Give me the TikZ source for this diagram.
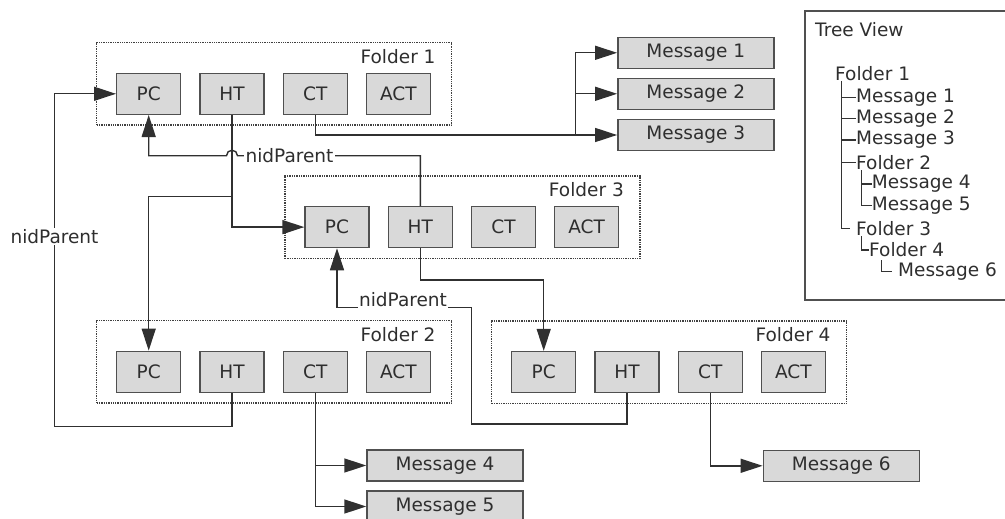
\documentclass[tikz,border=0pt]{standalone}
\usepackage{fontspec}
\setmainfont{DejaVu Sans}
\usetikzlibrary{arrows.meta}
\definecolor{boxfill}{HTML}{D9D9D9}
\definecolor{boxline}{HTML}{505050}
\definecolor{conncol}{HTML}{303030}
\newcommand{\mkfolder}[4]{%
\begin{scope}[shift={(#2,#3)}]
 \node[folderbox] (#1) at (177.5,41.15) {};
 \node[flabel,anchor=east] (#1lab) at (339,14) {#4};
 \node[cell] (#1pc) at (52,51.1) {PC};
 \node[cell] (#1ht) at (135.3,51.1) {HT};
 \node[cell] (#1ct) at (218.6,51.1) {CT};
 \node[cell] (#1act) at (301.6,51.1) {ACT};
\end{scope}}
\begin{document}
\begin{tikzpicture}[x=1pt,y=-1pt,
  every node/.style={font=\fontsize{18.5}{22}\selectfont, text=black!82},
  folderbox/.style={draw=black!75, densely dotted, line width=1.3pt, minimum width=355pt, minimum height=82.3pt, inner sep=0pt},
  flabel/.style={inner sep=0pt},
  cell/.style={draw=boxline, fill=boxfill, line width=1.4pt, minimum width=64pt, minimum height=41pt, inner sep=0pt},
  msg/.style={draw=boxline, fill=boxfill, line width=1.4pt, minimum width=156pt, minimum height=31pt, inner sep=0pt},
  conn/.style={draw=conncol, line width=1.4pt},
  arr/.style={conn, -{Triangle[length=22pt,width=14pt]}},
  lbl/.style={fill=white, inner sep=1.5pt},
  tree/.style={draw=black!80, line width=1.2pt},
  tlab/.style={anchor=west, inner sep=0pt}]
\useasboundingbox (0,0) rectangle (1005,519);

% folders
\mkfolder{fa}{96.7}{42.7}{Folder 1}
\mkfolder{fc}{285}{176}{Folder 3}
\mkfolder{fb}{96.7}{320.7}{Folder 2}
\mkfolder{fd}{491.7}{321}{Folder 4}

% messages
\node[msg] (m1) at (695.8,52.8) {Message 1};
\node[msg] (m2) at (695.8,93.8) {Message 2};
\node[msg] (m3) at (695.8,135) {Message 3};
\node[msg] (m4) at (445,465.5) {Message 4};
\node[msg] (m5) at (445,506.5) {Message 5};
\node[msg] (m6) at (841.3,465.8) {Message 6};

% helper coordinates
\coordinate (a1) at (54.3,426.7);
\coordinate (h) at (232,155.7);
\coordinate (b1) at (232,196.7);
\coordinate (b2) at (420.3,280);
\coordinate (b3) at (471.7,424);
\coordinate (b4) at (471.7,307.3);
\coordinate (b5) at (575.7,135);

% Folder 2 HT -> Folder 1 PC
\draw[arr] (fbht.south) |- (a1) |- (fapc.west);
\node[lbl] (np1) at (54.5,236.7) {nidParent};

% Folder 3 HT -> Folder 1 PC (with hop)
\draw[arr] (fcht.north) |- ([xshift=5.5pt]h) arc[start angle=0,end angle=180,radius=5.5pt] -- (fapc.south |- h) -- (fapc.south);
\node[lbl] (np2) at (289.5,155.7) {nidParent};

% Folder 1 HT -> Folder 3 PC, Folder 2 PC
\draw[arr] (faht.south) |- (fcpc.west);
\draw[arr] (b1) -| (fbpc.north);

% Folder 3 HT -> Folder 4 PC
\draw[arr] (fcht.south) -- (b2) -| (fdpc.north);

% Folder 4 HT -> Folder 3 PC
\draw[arr] (fdht.south) |- (b3) -- (b4) -| (fcpc.south);
\node[lbl, anchor=base] (np3) at (403,306.8) {nidParent};

% content tables -> messages
\draw[arr] (fact.south) |- (m3.west);
\draw[arr] (b5) |- (m2.west);
\draw[arr] (b5) |- (m1.west);
\draw[arr] (fbct.south) |- (m5.west);
\draw[arr] (fbct.south |- m4.west) -- (m4.west);
\draw[arr] (fdct.south) |- (m6.west);

% tree view
\node[draw=boxline, line width=1.4pt, minimum width=210pt, minimum height=289pt, inner sep=0pt] (tv) at (910,155.5) {};
\node[tlab] (tvt) at (815,30) {Tree View};
\node[tlab] (t0) at (835,73.3) {Folder 1};
\node[tlab] (t1) at (856,97.3) {Message 1};
\node[tlab] (t2) at (856,118.6) {Message 2};
\node[tlab] (t3) at (856,140) {Message 3};
\node[tlab] (t4) at (856,162.7) {Folder 2};
\node[tlab] (t5) at (871.7,184) {Message 4};
\node[tlab] (t6) at (871.7,205.2) {Message 5};
\node[tlab] (t7) at (856,228.3) {Folder 3};
\node[tlab] (t8) at (869,250) {Folder 4};
\node[tlab] (t9) at (898,271.7) {Message 6};
\coordinate (v1) at (841.7,81);
\coordinate (v2) at (861.7,170);
\draw[tree] (v1) |- (850,228.3);
\foreach \t in {t1,t2,t3,t4} \draw[tree] (v1 |- \t.west) -- (\t.west);
\draw[tree] (v2) |- (t6.west);
\draw[tree] (v2 |- t5.west) -- (t5.west);
\draw[tree] (861.7,236) |- (t8.west);
\draw[tree] (881.7,260) |- (892,271.7);
\end{tikzpicture}
\end{document}
